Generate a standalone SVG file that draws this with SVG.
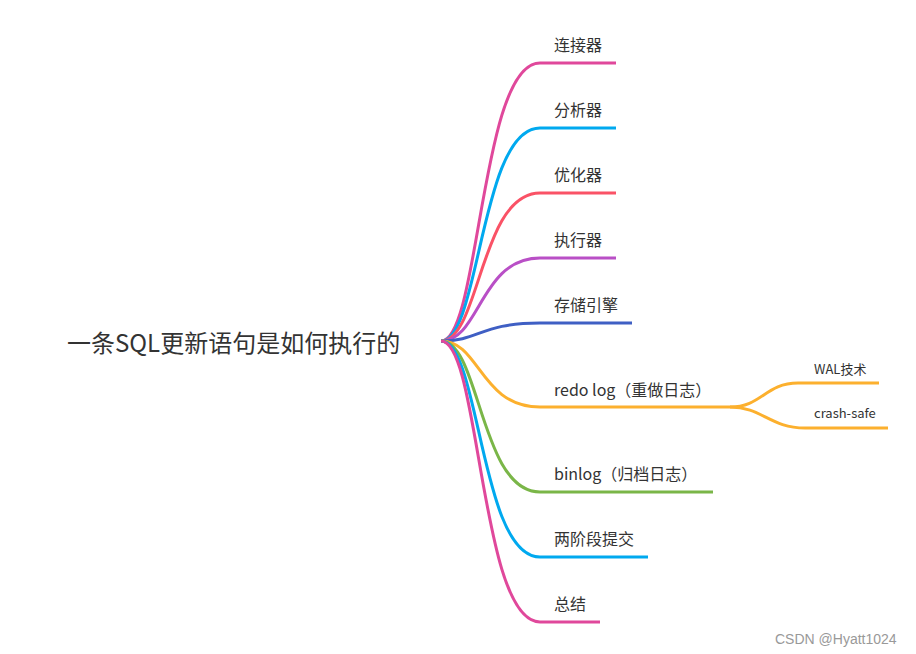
<svg xmlns="http://www.w3.org/2000/svg" width="916" height="654" viewBox="0 0 916 654">
<style>
.t{font-family:"Noto Sans CJK SC","Noto Sans",sans-serif;fill:#333;}
.l{font-size:16px;}
.s{font-size:13px;}
.c{fill:none;stroke-width:3;stroke-linecap:butt;}
</style>
<rect width="916" height="654" fill="#fff"/>
<g id="connectors">
<path class="c" stroke="#e0489b" d="M441,341 C480,341 480,63 540,63 L616,63"/>
<path class="c" stroke="#00a9ef" d="M441,341 C480,341 480,128 540,128 L616,128"/>
<path class="c" stroke="#fa5266" d="M441,341 C480,341 480,193 540,193 L616,193"/>
<path class="c" stroke="#b94fc6" d="M441,341 C480,341 480,258 540,258 L616,258"/>
<path class="c" stroke="#3f5fc4" d="M441,341 C480,341 480,323 540,323 L632,323"/>
<path class="c" stroke="#fcb02e" d="M441,341 C480,341 480,407 540,407 L730,407"/>
<path class="c" stroke="#fcb02e" d="M730,407 C762,407 765,383 798,383 L879,383"/>
<path class="c" stroke="#fcb02e" d="M730,407 C762,407 770,428 805,428 L888,428"/>
<path class="c" stroke="#7ab648" d="M441,341 C480,341 480,492 540,492 L713,492"/>
<path class="c" stroke="#00a9ef" d="M441,341 C480,341 480,557 540,557 L648,557"/>
<path class="c" stroke="#e0489b" d="M441,341 C480,341 480,622 540,622 L600,622"/>
</g>
<g id="root"><text class="t" x="67" y="352" font-size="24">一条SQL更新语句是如何执行的</text></g>
<g id="n1"><text class="t l" x="554" y="51">连接器</text></g>
<g id="n2"><text class="t l" x="554" y="116">分析器</text></g>
<g id="n3"><text class="t l" x="554" y="181">优化器</text></g>
<g id="n4"><text class="t l" x="554" y="246">执行器</text></g>
<g id="n5"><text class="t l" x="554" y="311">存储引擎</text></g>
<g id="n6"><text class="t l" x="554" y="396">redo log（重做日志）</text></g>
<g id="n6a"><text class="t s" x="814" y="374">WAL技术</text></g>
<g id="n6b"><text class="t s" x="814" y="418">crash-safe</text></g>
<g id="n7"><text class="t l" x="554" y="480">binlog（归档日志）</text></g>
<g id="n8"><text class="t l" x="554" y="545">两阶段提交</text></g>
<g id="n9"><text class="t l" x="554" y="610">总结</text></g>
<g id="watermark"><text x="775" y="644" font-family="Liberation Sans, sans-serif" font-size="14" fill="#999">CSDN @Hyatt1024</text></g>
</svg>
